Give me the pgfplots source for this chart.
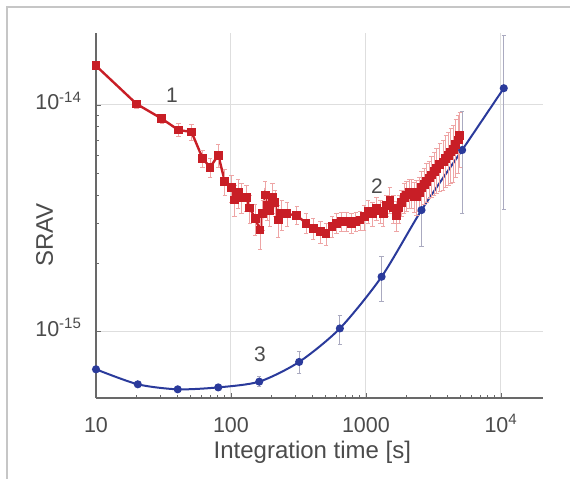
\documentclass[border=0pt]{standalone}
\usepackage{fontspec}
\setmainfont{Liberation Sans}
\usepackage{pgfplots}
\usepackage{pgfplotstable}
\pgfplotsset{compat=1.18}

\definecolor{redline}{RGB}{200,30,38}
\definecolor{rederr}{RGB}{238,165,165}
\definecolor{blueline}{RGB}{42,58,155}
\definecolor{blueerr}{RGB}{170,170,192}
\definecolor{axgray}{RGB}{105,105,105}
\definecolor{txtgray}{RGB}{75,75,75}
\definecolor{gridgray}{RGB}{222,222,222}

% series 1: short integration times
\pgfplotstableread{
x      y        e
10     1.49e-14 5e-16
20     1.01e-14 4e-16
30.7   8.7e-15  4e-16
40.8   7.75e-15 5e-16
51     7.6e-15  6e-16
61.7   5.8e-15  5e-16
70     5.3e-15  5e-16
80.5   6.0e-15  7e-16
90     4.6e-15  6e-16
101    4.3e-15  6e-16
}\seriesone

% series 2: dense overlapping points
\pgfplotstableread{
x      y        e
101    4.3e-15  6e-16
106    3.8e-15  6e-16
113    4.1e-15  6e-16
120    3.9e-15  6e-16
130    3.9e-15  5e-16
138    3.5e-15  5e-16
151    3.15e-15 5e-16
164    2.8e-15  5e-16
172    3.3e-15  5e-16
179    4.0e-15  6e-16
186    3.6e-15  5e-16
194    3.4e-15  5e-16
203    3.9e-15  6e-16
212    3.7e-15  5e-16
224    3.1e-15  5e-16
238    3.3e-15  5e-16
260    3.3e-15  4e-16
307    3.25e-15 3e-16
360    3.0e-15  3e-16
407    2.85e-15 3e-16
460    2.75e-15 3e-16
506    2.7e-15  3e-16
560    2.9e-15  3e-16
607    3.0e-15  3e-16
660    3.05e-15 3e-16
719    3.05e-15 3e-16
780    3.0e-15  3e-16
840    3.05e-15 3e-16
903    3.1e-15  3e-16
970    3.2e-15  4e-16
1040   3.4e-15  4e-16
1120   3.3e-15  4e-16
1200   3.5e-15  4e-16
1280   3.4e-15  4e-16
1343   3.3e-15  4e-16
1420   3.6e-15  4e-16
1506   3.8e-15  5e-16
1600   3.5e-15  5e-16
1687   3.25e-15 5e-16
1760   3.5e-15  5e-16
1837   3.7e-15  5e-16
1920   3.9e-15  6e-16
2000   4.0e-15  6e-16
2090   4.1e-15  6e-16
2180   4.1e-15  6e-16
2270   3.95e-15 6e-16
2373   3.95e-15 7e-16
2480   4.1e-15  7e-16
2583   4.3e-15  8e-16
2700   4.45e-15 8e-16
2812   4.6e-15  9e-16
2940   4.75e-15 9e-16
3066   4.9e-15  1.0e-15
3200   5.1e-15  1.1e-15
3337   5.25e-15 1.2e-15
3530   5.45e-15 1.3e-15
3740   5.6e-15  1.4e-15
3900   5.8e-15  1.5e-15
4075   6.0e-15  1.6e-15
4250   6.2e-15  1.7e-15
4437   6.35e-15 1.8e-15
4630   6.7e-15  1.9e-15
4830   7.0e-15  2.0e-15
4966   7.3e-15  2.0e-15
}\seriestwo

% series 3
\pgfplotstableread{
x      y        e
10     6.78e-16 1e-17
20.4   5.82e-16 1e-17
40.3   5.53e-16 1e-17
80.5   5.64e-16 1.5e-17
162    5.98e-16 3e-17
320    7.31e-16 8e-17
641    1.028e-15 1.5e-16
1306   1.74e-15 3.9e-16
2580   3.43e-15 1.07e-15
5160   6.32e-15 3.0e-15
10500  1.186e-14 8.4e-15
}\seriesthree

\begin{document}
\begin{tikzpicture}
\begin{axis}[
    at={(0,0)}, anchor=south west,
    scale only axis,
    width=447pt, height=365pt,
    xmode=log, ymode=log,
    xmin=10, xmax=2.05e4,
    ymin=5.06e-16, ymax=2.08e-14,
    axis x line=bottom, axis y line=left,
    axis line style={-, axgray, line width=1.4pt},
    xtick={10,100,1000,10000},
    xticklabels={10,100,1000,10\textsuperscript{4}},
    ytick={1e-15,1e-14},
    yticklabels={10\textsuperscript{-15},10\textsuperscript{-14}},
    tick align=inside,
    major tick length=5pt, minor tick length=3pt,
    every tick/.style={axgray, line width=0.8pt},
    grid=major,
    major grid style={gridgray, line width=1pt},
    tick label style={font=\fontsize{21.5}{25}\selectfont, text=txtgray},
    xticklabel style={anchor=base, yshift=-34pt},
    yticklabel style={anchor=base east, xshift=-11pt, yshift=-5pt},
    xlabel={Integration time [s]},
    ylabel={SRAV},
    label style={font=\fontsize{24}{28}\selectfont, text=txtgray},
    xlabel style={at={(axis description cs:0.484,0)}, anchor=base, yshift=-60pt},
    ylabel style={at={(axis description cs:-0.0962,0.447)}, anchor=base},
    clip=false,
]
% blue series 3
\addplot[blueline, line width=2pt, smooth, tension=0.45,
    mark=*, mark size=3pt, mark options={fill=blueline, draw=blueline},
    error bars/.cd, y dir=both, y explicit,
    error bar style={blueerr, line width=0.9pt},
    error mark options={rotate=90, blueerr, mark size=2.2pt, line width=0.8pt}]
    table[x=x, y=y, y error=e] {\seriesthree};
% red series 1
\addplot[redline, line width=2.4pt,
    mark=square*, mark size=3.2pt, mark options={fill=redline, draw=redline},
    error bars/.cd, y dir=both, y explicit,
    error bar style={rederr, line width=0.9pt},
    error mark options={rotate=90, rederr, mark size=2.2pt, line width=0.8pt}]
    table[x=x, y=y, y error=e] {\seriesone};
% red series 2
\addplot[redline, line width=2.4pt,
    mark=square*, mark size=3.2pt, mark options={fill=redline, draw=redline},
    error bars/.cd, y dir=both, y explicit,
    error bar style={rederr, line width=0.9pt},
    error mark options={rotate=90, rederr, mark size=2.2pt, line width=0.8pt}]
    table[x=x, y=y, y error=e] {\seriestwo};
\node[text=txtgray, font=\fontsize{21}{25}\selectfont] at (axis cs:36.5,1.107e-14) {1};
\node[text=txtgray, font=\fontsize{21}{25}\selectfont] at (axis cs:1206,4.39e-15) {2};
\node[text=txtgray, font=\fontsize{21}{25}\selectfont] at (axis cs:164,7.91e-16) {3};
\end{axis}
\draw[gray!45, line width=1.5pt] (-89pt,-81pt) -- (-89pt,391pt) -- (474pt,391pt);
\pgfresetboundingbox
\path (-96pt,-81pt) rectangle (474pt,398pt);
\end{tikzpicture}
\end{document}
